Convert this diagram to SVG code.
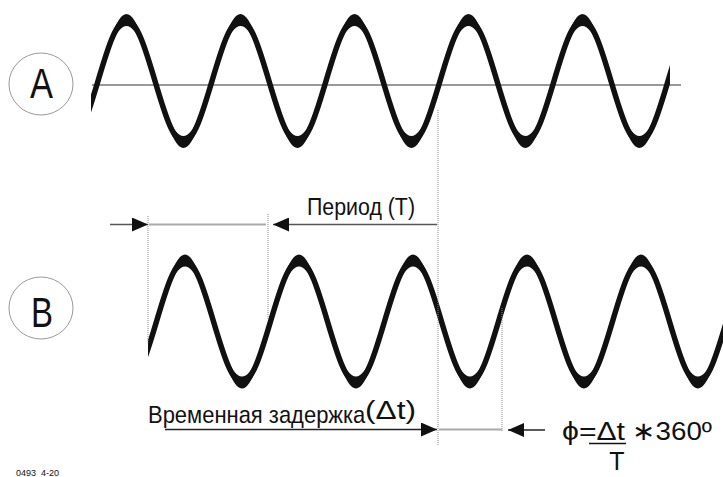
<svg xmlns="http://www.w3.org/2000/svg" xmlns:xlink="http://www.w3.org/1999/xlink" width="723" height="477" viewBox="0 0 723 477">
<style>
.bg{fill:#fff}
.ring{fill:none;stroke:#999;stroke-width:1}
.big{font-family:"Liberation Sans",Arial,sans-serif;font-size:42px;fill:#111}
.lbl{font-family:"Liberation Sans",Arial,sans-serif;fill:#111}
.axis{stroke:#777;stroke-width:1.6}
.dot{stroke:#888;stroke-width:1;stroke-dasharray:1 1;fill:none}
.gray{stroke:#aaa;stroke-width:2}
.arr{stroke:#555;stroke-width:1.5;fill:none}
.arrd{stroke:#222;stroke-width:1.5;fill:none}
.wline{fill:none;stroke:#111;stroke-width:5.5}
.wband{fill:#111;fill-rule:evenodd}
</style>
<defs>
<marker id="ah" markerUnits="userSpaceOnUse" markerWidth="17" markerHeight="14" refX="16" refY="7" orient="auto">
<path d="M0,0 L16,7 L0,14 Z" fill="#111"/>
</marker>
<path id="wc" d="M0,0 c9.294,-31.25 18.186,-61 28.5,-61 s19.206,29.75 28.5,61 s18.186,61 28.5,61 s19.206,-29.75 28.5,-61 s18.186,-61 28.5,-61 s19.206,29.75 28.5,61 s18.186,61 28.5,61 s19.206,-29.75 28.5,-61 s18.186,-61 28.5,-61 s19.206,29.75 28.5,61 s18.186,61 28.5,61 s19.206,-29.75 28.5,-61 s18.186,-61 28.5,-61 s19.206,29.75 28.5,61 s18.186,61 28.5,61 s19.206,-29.75 28.5,-61 s18.186,-61 28.5,-61 s19.206,29.75 28.5,61 s18.186,61 28.5,61 s19.206,-29.75 28.5,-61 s18.186,-61 28.5,-61 s19.206,29.75 28.5,61 s18.186,61 28.5,61 s19.206,-29.75 28.5,-61 s18.186,-61 28.5,-61"/>
<path id="wb" d="M0,0 c9.294,-34.32 18.186,-67 28.5,-67 s19.206,32.68 28.5,67 s18.186,67 28.5,67 s19.206,-32.68 28.5,-67 s18.186,-67 28.5,-67 s19.206,32.68 28.5,67 s18.186,67 28.5,67 s19.206,-32.68 28.5,-67 s18.186,-67 28.5,-67 s19.206,32.68 28.5,67 s18.186,67 28.5,67 s19.206,-32.68 28.5,-67 s18.186,-67 28.5,-67 s19.206,32.68 28.5,67 s18.186,67 28.5,67 s19.206,-32.68 28.5,-67 s18.186,-67 28.5,-67 s19.206,32.68 28.5,67 s18.186,67 28.5,67 s19.206,-32.68 28.5,-67 s18.186,-67 28.5,-67 s19.206,32.68 28.5,67 s18.186,67 28.5,67 s19.206,-32.68 28.5,-67 s18.186,-67 28.5,-67 V400 H0 Z M0,0 c9.294,-28.18 18.186,-55 28.5,-55 s19.206,26.82 28.5,55 s18.186,55 28.5,55 s19.206,-26.82 28.5,-55 s18.186,-55 28.5,-55 s19.206,26.82 28.5,55 s18.186,55 28.5,55 s19.206,-26.82 28.5,-55 s18.186,-55 28.5,-55 s19.206,26.82 28.5,55 s18.186,55 28.5,55 s19.206,-26.82 28.5,-55 s18.186,-55 28.5,-55 s19.206,26.82 28.5,55 s18.186,55 28.5,55 s19.206,-26.82 28.5,-55 s18.186,-55 28.5,-55 s19.206,26.82 28.5,55 s18.186,55 28.5,55 s19.206,-26.82 28.5,-55 s18.186,-55 28.5,-55 s19.206,26.82 28.5,55 s18.186,55 28.5,55 s19.206,-26.82 28.5,-55 s18.186,-55 28.5,-55 V400 H0 Z"/>
<clipPath id="clipA"><rect x="91" y="0" width="579" height="200"/></clipPath>
<clipPath id="clipB"><rect x="148" y="230" width="575" height="180"/></clipPath>
</defs>
<rect class="bg" x="0" y="0" width="723" height="477"/>

<g id="label-A">
<ellipse class="ring" cx="41" cy="84" rx="32" ry="31"/>
<text class="big" x="30" y="98" textLength="23" lengthAdjust="spacingAndGlyphs">A</text>
</g>
<g id="label-B">
<ellipse class="ring" cx="41" cy="308" rx="32" ry="31"/>
<text class="big" x="31" y="327" textLength="22" lengthAdjust="spacingAndGlyphs">B</text>
</g>

<g id="wave-A">
<line class="axis" x1="92" y1="85" x2="681" y2="85"/>
<g clip-path="url(#clipA)">
<use xlink:href="#wc" class="wline" transform="translate(-16,81)"/>
<use xlink:href="#wb" class="wband" transform="translate(-16,81)"/>
</g>
</g>

<g id="wave-B">
<g clip-path="url(#clipB)">
<use xlink:href="#wc" class="wline" transform="translate(42.5,321.5)"/>
<use xlink:href="#wb" class="wband" transform="translate(42.5,321.5)"/>
</g>
</g>

<g id="connectors">
<line class="dot" x1="148" y1="216" x2="148" y2="344"/>
<line class="dot" x1="268" y1="214" x2="268" y2="320"/>
<line class="dot" x1="438" y1="110" x2="438" y2="445"/>
<line class="dot" x1="502" y1="308" x2="502" y2="432"/>
<line class="arr" x1="110" y1="224.5" x2="148" y2="224.5" marker-end="url(#ah)"/>
<line class="gray" x1="149" y1="224.5" x2="266" y2="224.5"/>
<line class="arr" x1="437" y1="224.5" x2="273" y2="224.5" marker-end="url(#ah)"/>
<line class="arrd" x1="165" y1="429.5" x2="437" y2="429.5" marker-end="url(#ah)"/>
<line class="gray" x1="439" y1="429.5" x2="502" y2="429.5"/>
<line class="arrd" x1="545" y1="430" x2="508" y2="430" marker-end="url(#ah)"/>
</g>

<g id="period-label">
<text class="lbl" x="307" y="215" font-size="23" textLength="108" lengthAdjust="spacingAndGlyphs">Период (Т)</text>
</g>
<g id="delay-label">
<text class="lbl" transform="translate(148,423) scale(0.915,1)" x="0" y="0" font-size="24">Временная задержка</text>
<text class="lbl" x="365" y="419" font-size="26" textLength="51" lengthAdjust="spacingAndGlyphs">(Δt)</text>
</g>
<g id="formula">
<text class="lbl" x="562" y="440" font-size="26" textLength="63" lengthAdjust="spacingAndGlyphs">ϕ=Δt</text>
<line x1="589" y1="443.5" x2="626" y2="443.5" stroke="#111" stroke-width="1.6"/>
<text class="lbl" x="632" y="440" font-size="26" textLength="80" lengthAdjust="spacingAndGlyphs">∗360º</text>
<text class="lbl" x="617" y="470" font-size="25" text-anchor="middle">T</text>
</g>
<g id="code">
<text class="lbl" x="16" y="476" font-size="9">0493_4-20</text>
</g>
</svg>
